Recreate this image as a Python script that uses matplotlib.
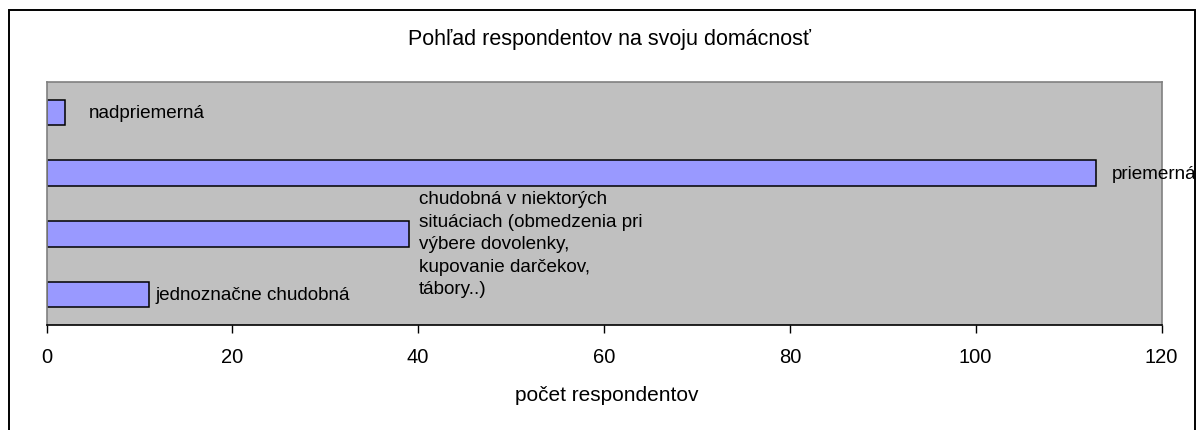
import matplotlib.pyplot as plt
import matplotlib.patches as patches

# data (bottom to top, as drawn)
categories = ['jednoznačne chudobná',
              'chudobná v niektorých\nsituáciach (obmedzenia pri\nvýbere dovolenky,\nkupovanie darčekov,\ntábory..)',
              'priemerná',
              'nadpriemerná']
values = [11, 39, 113, 2]
xticks = [0, 20, 40, 60, 80, 100, 120]

title = 'Pohľad respondentov na svoju domácnosť'
xlabel = 'počet respondentov'

# label placement (pixels right of bar end, pixels down)
label_dx = [7, 10, 15, 24]
label_dy = [0, 10, 0, 0]

plt.rcParams['font.family'] = ['Liberation Sans', 'DejaVu Sans']
W, H = 1198, 431
fig = plt.figure(figsize=(W / 100, H / 100), dpi=100)

# outer chart border (bottom edge is cut off)
fig.patches.append(patches.Rectangle((9 / W, -0.05), (1195 - 9) / W, (H - 10.5) / H + 0.05,
                                     transform=fig.transFigure, fill=False,
                                     edgecolor='black', linewidth=1.4))

ax = fig.add_axes([46.5 / W, 1 - 326 / H, (1161.5 - 46.5) / W, (326 - 83) / H])
ax.set_facecolor('#c0c0c0')
ypos = list(range(len(values)))
ax.barh(ypos, values, height=0.42, color='#9999ff', edgecolor='black', linewidth=1.1, zorder=2)

ax.set_xlim(0, 120)
ax.set_ylim(-0.5, len(values) - 0.5)
ax.set_xticks(xticks)
ax.set_yticks([])
ax.tick_params(axis='x', direction='out', length=6, width=1, pad=9.5, labelsize=14.5, colors='black')
for s in ['top', 'right', 'left']:
    ax.spines[s].set_color('#808080')
    ax.spines[s].set_linewidth(1.2)
ax.spines['bottom'].set_color('black')
ax.spines['bottom'].set_linewidth(1.2)

for i in range(len(values)):
    ax.annotate(categories[i], (values[i], ypos[i]), xytext=(label_dx[i] * 0.72, -label_dy[i] * 0.72),
                textcoords='offset points', ha='left', va='center', fontsize=13.6,
                linespacing=1.42, annotation_clip=False, clip_on=False, zorder=5)

fig.text(610 / W, 1 - 39 / H, title, ha='center', va='center', fontsize=15.5)
fig.text(607 / W, 1 - 396 / H, xlabel, ha='center', va='center', fontsize=15)

fig.savefig('out.png', dpi=100)
